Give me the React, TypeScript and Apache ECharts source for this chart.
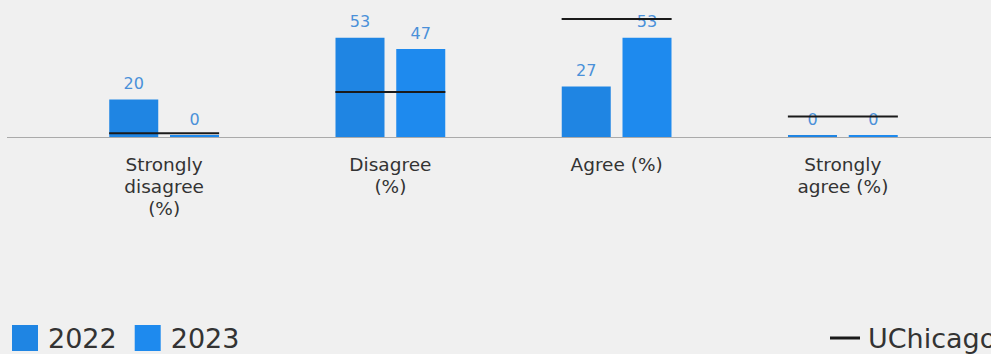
import React, { useEffect, useRef } from "react";
import * as echarts from "echarts";

const categories = ["Strongly\ndisagree\n(%)", "Disagree\n(%)", "Agree (%)", "Strongly\nagree (%)"];
const values2022 = [20, 53, 27, 0];
const values2023 = [0, 47, 53, 0];
const uchicago = [2, 24, 63, 11];

const BLUE_2022 = "#1f85e3";
const BLUE_2023 = "#1e8aee";
const LABEL_BLUE = "#4a90d9";
const FONT = "'DejaVu Sans', sans-serif";

export default function App() {
  const ref = useRef<HTMLDivElement>(null);
  useEffect(() => {
    if (!ref.current) return;
    const chart = echarts.init(ref.current, null, { renderer: "svg" });
    const valueLabel = {
      show: true,
      position: "top",
      distance: 8,
      color: LABEL_BLUE,
      fontSize: 16,
      fontFamily: FONT,
    };
    chart.setOption({
      animation: false,
      backgroundColor: "#f0f0f0",
      grid: { left: 51, right: 35, top: 6, bottom: 217 },
      xAxis: {
        type: "category",
        data: categories,
        axisLine: { show: false },
        axisTick: { show: false },
        axisLabel: {
          color: "#333",
          fontSize: 18.5,
          lineHeight: 22,
          fontFamily: FONT,
          margin: 16,
          interval: 0,
        },
      },
      yAxis: {
        type: "value",
        min: 0,
        max: 70,
        show: false,
        splitLine: { show: false },
      },
      graphic: [
        {
          type: "line",
          shape: { x1: 7, y1: 137.5, x2: 991, y2: 137.5 },
          style: { stroke: "#aaaaaa", lineWidth: 1 },
          z: 0,
        },
      ],
      legend: [
        {
          data: ["2022", "2023"],
          left: 12,
          top: 324,
          padding: 0,
          itemWidth: 26,
          itemHeight: 26,
          itemGap: 18,
          icon: "rect",
          textStyle: { fontSize: 27, color: "#333", fontFamily: FONT, padding: [0, 0, 0, 5], lineHeight: 28 },
        },
        {
          data: ["UChicago"],
          left: 830,
          top: 324,
          padding: 0,
          itemWidth: 30,
          itemHeight: 3,
          icon: "rect",
          textStyle: { fontSize: 27, color: "#333", fontFamily: FONT, padding: [0, 0, 0, 3], lineHeight: 28 },
        },
      ],
      series: [
        {
          name: "2022",
          type: "bar",
          data: values2022,
          barWidth: 49,
          barGap: "24%",
          barMinHeight: 2,
          itemStyle: { color: BLUE_2022 },
          label: valueLabel,
          z: 2,
        },
        {
          name: "2023",
          type: "bar",
          data: values2023,
          barWidth: 49,
          barMinHeight: 2,
          itemStyle: { color: BLUE_2023 },
          label: valueLabel,
          z: 2,
        },
        {
          name: "UChicago",
          type: "custom",
          data: uchicago.map((v, i) => [i, v]),
          itemStyle: { color: "#1a1a1a" },
          z: 5,
          renderItem: (params: any, api: any) => {
            const p = api.coord([api.value(0), api.value(1)]);
            return {
              type: "line",
              shape: { x1: p[0] - 55, y1: p[1], x2: p[0] + 55, y2: p[1] },
              style: { stroke: "#1a1a1a", lineWidth: 2 },
            };
          },
        },
      ],
    });
    return () => chart.dispose();
  }, []);
  return (
    <div
      ref={ref}
      style={{ position: "fixed", left: 0, top: 0, width: 991, height: 354 }}
    />
  );
}
